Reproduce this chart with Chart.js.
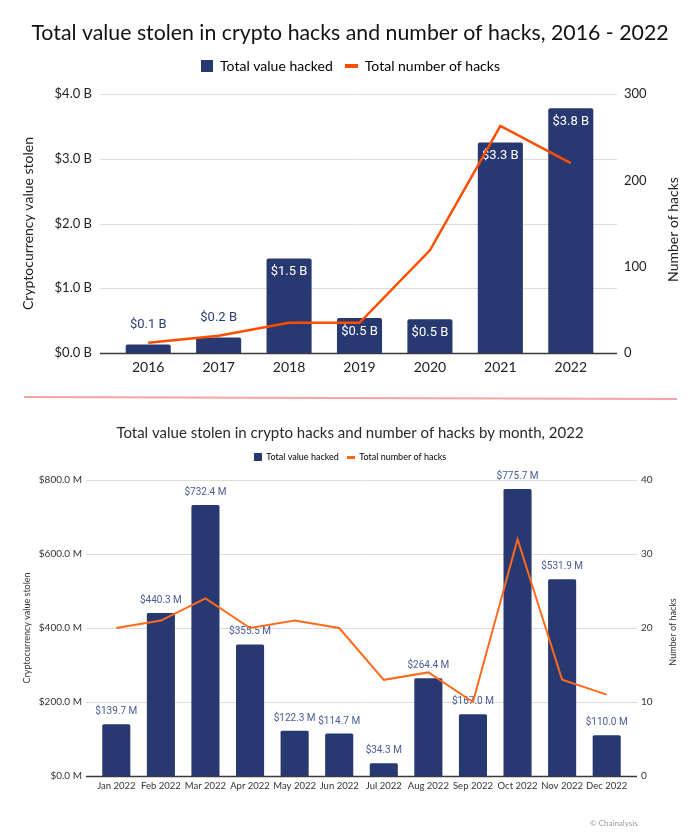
<!DOCTYPE html>
<html>
<head>
<meta charset="utf-8">
<title>Crypto Hacks</title>
<script src="https://cdn.jsdelivr.net/npm/chart.js"></script>
<style>
    html, body { margin: 0; padding: 0; background: #fff; }
    body { width: 700px; height: 837px; position: relative; overflow: hidden; font-family: Lato, sans-serif; }
    #jahresChart { position: absolute; left: 0; top: 0; }
    #monatsChart { position: absolute; left: 0; top: 400px; }
    .trenner { position: absolute; left: 24px; top: 396px; width: 653px; height: 0;
               border-top: 2px solid #f5a3a3; transform: rotate(0.18deg); transform-origin: left center; }
    .quelle { position: absolute; left: 590px; top: 818px; font-size: 8px; color: #9a9a9a; }
</style>
</head>
<body>
<canvas id="jahresChart" width="700" height="392"></canvas>
<div class="trenner"></div>
<canvas id="monatsChart" width="700" height="437"></canvas>
<div class="quelle">© Chainalysis</div>
<script>
// Jahreswerte 2016 - 2022
const jahre = ['2016', '2017', '2018', '2019', '2020', '2021', '2022'];
const wertJahre = [0.13, 0.24, 1.46, 0.54, 0.52, 3.25, 3.78];   // Mrd. USD
const hacksJahre = [12, 20, 35, 35, 119, 263, 220];

// Monatswerte 2022
const monate = ['Jan 2022', 'Feb 2022', 'Mar 2022', 'Apr 2022', 'May 2022', 'Jun 2022',
                'Jul 2022', 'Aug 2022', 'Sep 2022', 'Oct 2022', 'Nov 2022', 'Dec 2022'];
const wertMonate = [139.7, 440.3, 732.4, 355.5, 122.3, 114.7, 34.3, 264.4, 167.0, 775.7, 531.9, 110.0]; // Mio. USD
const hacksMonate = [20, 21, 24, 20, 21, 20, 13, 14, 10, 32, 13, 11];

const NAVY = '#283870';
const ORANGE_OBEN = '#ff4e00';
const ORANGE_UNTEN = '#ff6a1c';

// kleine Legenden-Symbole als Canvas
function symbol(breite, hoehe, farbe) {
    const c = document.createElement('canvas');
    c.width = breite;
    c.height = hoehe;
    const g = c.getContext('2d');
    g.fillStyle = farbe;
    g.fillRect(0, 0, breite, hoehe);
    return c;
}

// Gitterlinien etwas breiter als die Zeichenfläche, Nulllinie dunkel
const gitterPlugin = {
    id: 'gitter',
    beforeDatasetsDraw(chart, args, opts) {
        const { ctx, chartArea: a } = chart;
        const y = chart.scales.y;
        ctx.save();
        y.ticks.forEach((t, i) => {
            const py = Math.round(y.getPixelForTick(i)) + 0.5;
            ctx.strokeStyle = t.value === 0 ? '#3a3a3a' : '#dcdcdc';
            ctx.lineWidth = t.value === 0 ? 1.5 : 1;
            ctx.beginPath();
            ctx.moveTo(a.left - opts.links, py);
            ctx.lineTo(a.right + opts.rechts, py);
            ctx.stroke();
        });
        ctx.restore();
    }
};

// Beschriftung der Balken (vor der Linie gezeichnet)
const wertPlugin = {
    id: 'werte',
    afterDatasetDraw(chart, args, opts) {
        if (args.index !== 0) return;
        const { ctx } = chart;
        ctx.save();
        ctx.font = opts.font;
        ctx.textAlign = 'center';
        ctx.textBaseline = 'middle';
        args.meta.data.forEach((balken, i) => {
            const text = opts.format(chart.data.datasets[0].data[i]);
            const hoehe = balken.base - balken.y;
            if (opts.innen && hoehe > 30) {
                ctx.fillStyle = '#ffffff';
                ctx.fillText(text, balken.x, balken.y + 13.5);
            } else {
                ctx.fillStyle = opts.farbe;
                ctx.fillText(text, balken.x, balken.y - opts.abstand);
            }
        });
        ctx.restore();
    }
};

// Titel der rechten Achse, von unten nach oben gelesen wie links
const rechterTitelPlugin = {
    id: 'rechterTitel',
    afterDraw(chart, args, opts) {
        const { ctx, chartArea: a } = chart;
        ctx.save();
        ctx.translate(opts.x, (a.top + a.bottom) / 2 + opts.dy);
        ctx.rotate(-Math.PI / 2);
        ctx.font = opts.font;
        ctx.fillStyle = opts.farbe;
        ctx.textAlign = 'center';
        ctx.textBaseline = 'middle';
        ctx.fillText(opts.text, 0, 0);
        ctx.restore();
    }
};

function legendeMit(symbole) {
    return (chart) => chart.data.datasets.map((ds, i) => ({
        text: ds.label,
        fillStyle: 'transparent',
        strokeStyle: 'transparent',
        lineWidth: 0,
        pointStyle: symbole[i],
        hidden: false,
        datasetIndex: i
    }));
}

// ---------- Diagramm 1: Jahre ----------
new Chart(document.getElementById('jahresChart'), {
    data: {
        labels: jahre,
        datasets: [
            {
                type: 'bar',
                label: 'Total value hacked',
                data: wertJahre,
                backgroundColor: NAVY,
                borderRadius: 2,
                yAxisID: 'y',
                order: 2,
                categoryPercentage: 1,
                barPercentage: 0.64
            },
            {
                type: 'line',
                label: 'Total number of hacks',
                data: hacksJahre,
                borderColor: ORANGE_OBEN,
                borderWidth: 2.5,
                pointRadius: 0,
                tension: 0,
                yAxisID: 'y1',
                order: 1
            }
        ]
    },
    options: {
        responsive: false,
        animation: false,
        layout: { padding: 0 },
        plugins: {
            tooltip: { enabled: false },
            title: {
                display: true,
                text: 'Total value stolen in crypto hacks and number of hacks, 2016 - 2022',
                color: '#111',
                font: { family: 'Lato', size: 21.3, weight: 'normal', lineHeight: 1.2 },
                padding: { top: 20, bottom: 1.5 }
            },
            legend: {
                display: true,
                labels: {
                    usePointStyle: true,
                    pointStyleWidth: 13,
                    padding: 12,
                    color: '#222',
                    font: { family: 'Lato', size: 14 },
                    generateLabels: legendeMit([symbol(12, 12, NAVY), symbol(13, 4, ORANGE_OBEN)])
                }
            },
            subtitle: {
                display: true,
                text: ' ',
                weight: 500,
                font: { size: 1, lineHeight: 1 },
                padding: { top: 10, bottom: 0 }
            },
            gitter: { links: 13, rechts: 11 },
            werte: {
                font: '13px Roboto, sans-serif',
                farbe: '#2d3c78',
                innen: true,
                abstand: 20,
                format: v => '$' + v.toFixed(1) + ' B'
            },
            rechterTitel: {
                text: 'Number of hacks',
                font: '14px Lato, sans-serif',
                farbe: '#222',
                x: 673,
                dy: 6
            }
        },
        scales: {
            x: {
                grid: { display: false, drawTicks: false },
                border: { display: false },
                ticks: { color: '#222', font: { family: 'Lato', size: 14 }, padding: 6 },
                afterFit(s) { s.height = 39; }
            },
            y: {
                position: 'left',
                min: 0,
                max: 4,
                grid: { display: false, drawTicks: false },
                border: { display: false },
                ticks: {
                    stepSize: 1,
                    padding: 21,
                    color: '#222',
                    font: { family: 'Lato', size: 13 },
                    callback: v => '$' + v.toFixed(1) + ' B'
                },
                title: {
                    display: true,
                    text: 'Cryptocurrency value stolen',
                    color: '#222',
                    font: { family: 'Lato', size: 14, lineHeight: 1.2 },
                    padding: { top: 19.6, bottom: 0 }
                },
                afterFit(s) { s.width = 113; }
            },
            y1: {
                position: 'right',
                min: 0,
                max: 300,
                grid: { display: false, drawTicks: false },
                border: { display: false },
                ticks: { stepSize: 100, padding: 18, color: '#222', font: { family: 'Lato', size: 13 } },
                afterFit(s) { s.width = 94; }
            }
        }
    },
    plugins: [gitterPlugin, wertPlugin, rechterTitelPlugin]
});

// ---------- Diagramm 2: Monate 2022 ----------
new Chart(document.getElementById('monatsChart'), {
    data: {
        labels: monate,
        datasets: [
            {
                type: 'bar',
                label: 'Total value hacked',
                data: wertMonate,
                backgroundColor: NAVY,
                borderRadius: 1.5,
                yAxisID: 'y',
                order: 2,
                categoryPercentage: 1,
                barPercentage: 0.63
            },
            {
                type: 'line',
                label: 'Total number of hacks',
                data: hacksMonate,
                borderColor: ORANGE_UNTEN,
                borderWidth: 2,
                pointRadius: 0,
                tension: 0,
                yAxisID: 'y1',
                order: 1
            }
        ]
    },
    options: {
        responsive: false,
        animation: false,
        layout: { padding: 0 },
        plugins: {
            tooltip: { enabled: false },
            title: {
                display: true,
                text: 'Total value stolen in crypto hacks and number of hacks by month, 2022',
                color: '#2a2a2a',
                font: { family: 'Lato', size: 15, weight: 'normal', lineHeight: 1.2 },
                padding: { top: 24, bottom: 2.5 }
            },
            legend: {
                display: true,
                labels: {
                    usePointStyle: true,
                    pointStyleWidth: 8,
                    padding: 8,
                    color: '#444',
                    font: { family: 'Lato', size: 9 },
                    generateLabels: legendeMit([symbol(8, 8, NAVY), symbol(8, 3, ORANGE_UNTEN)])
                }
            },
            subtitle: {
                display: true,
                text: ' ',
                weight: 500,
                font: { size: 1, lineHeight: 1 },
                padding: { top: 7.5, bottom: 0 }
            },
            gitter: { links: 8, rechts: 8 },
            werte: {
                font: '10px Roboto, sans-serif',
                farbe: '#4a5a98',
                innen: false,
                abstand: 12.5,
                format: v => '$' + v.toFixed(1) + ' M'
            },
            rechterTitel: {
                text: 'Number of hacks',
                font: '9px Lato, sans-serif',
                farbe: '#333',
                x: 673,
                dy: 4
            }
        },
        scales: {
            x: {
                grid: { display: false, drawTicks: false },
                border: { display: false },
                ticks: { color: '#333', font: { family: 'Lato', size: 9.5 }, padding: 4, maxRotation: 0, autoSkip: false },
                afterFit(s) { s.height = 61; }
            },
            y: {
                position: 'left',
                min: 0,
                max: 800,
                grid: { display: false, drawTicks: false },
                border: { display: false },
                ticks: {
                    stepSize: 200,
                    padding: 12,
                    color: '#333',
                    font: { family: 'Lato', size: 10 },
                    callback: v => '$' + v.toFixed(1) + ' M'
                },
                title: {
                    display: true,
                    text: 'Cryptocurrency value stolen',
                    color: '#333',
                    font: { family: 'Lato', size: 9, lineHeight: 1.2 },
                    padding: { top: 21.6, bottom: 0 }
                },
                afterFit(s) { s.width = 94; }
            },
            y1: {
                position: 'right',
                min: 0,
                max: 40,
                grid: { display: false, drawTicks: false },
                border: { display: false },
                ticks: { stepSize: 10, padding: 12, color: '#333', font: { family: 'Lato', size: 10 } },
                afterFit(s) { s.width = 71; }
            }
        }
    },
    plugins: [gitterPlugin, wertPlugin, rechterTitelPlugin]
});
</script>
</body>
</html>
